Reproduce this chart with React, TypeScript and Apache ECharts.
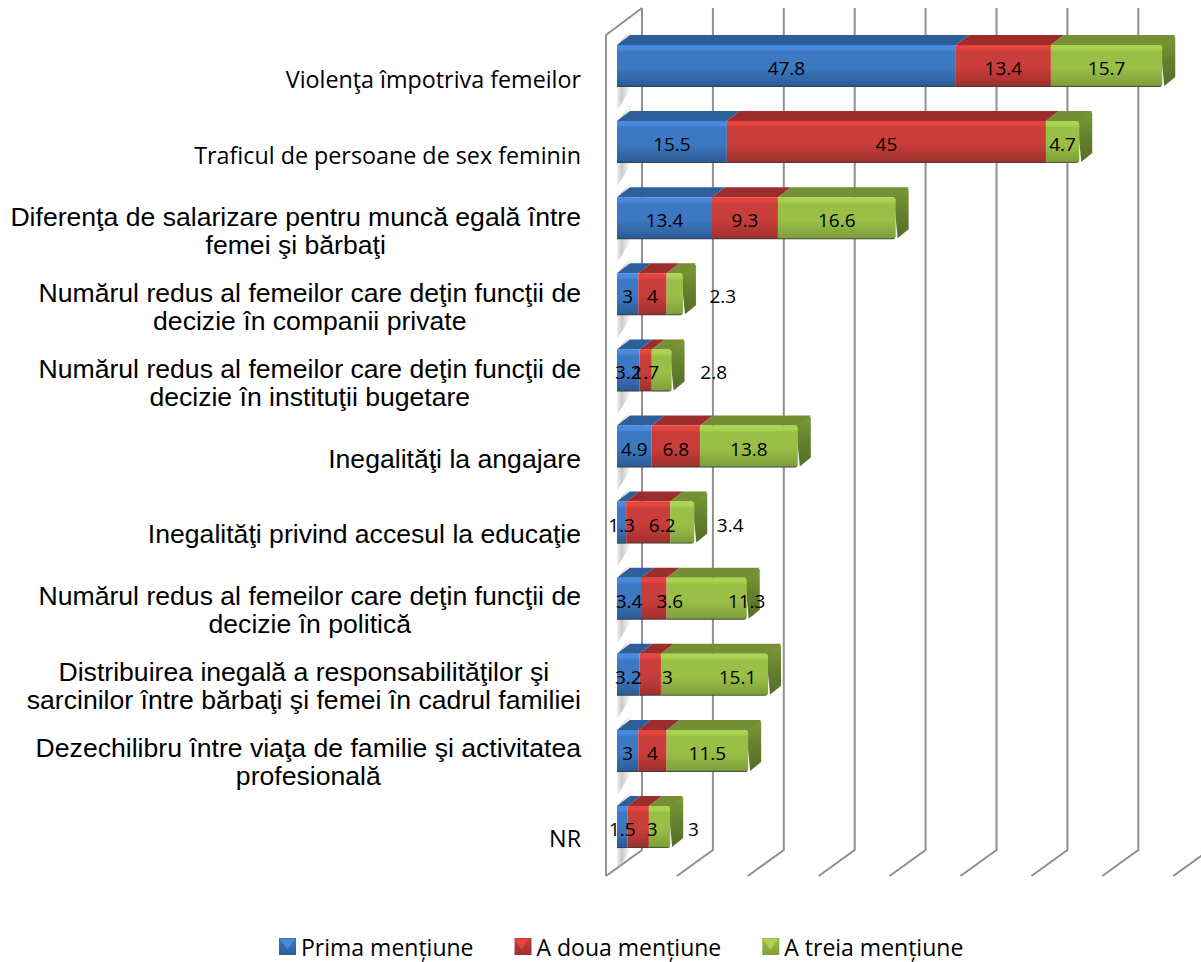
import React, { useEffect, useRef } from "react";
import * as echarts from "echarts";

const categories = [
  "Violenţa împotriva femeilor",
  "Traficul de persoane de sex feminin",
  "Diferenţa de salarizare pentru muncă egală între\nfemei şi bărbaţi",
  "Numărul redus al femeilor care deţin funcţii de\ndecizie în companii private",
  "Numărul redus al femeilor care deţin funcţii de\ndecizie în instituţii bugetare",
  "Inegalităţi la angajare",
  "Inegalităţi privind accesul la educaţie",
  "Numărul redus al femeilor care deţin funcţii de\ndecizie în politică",
  "Distribuirea inegală a responsabilităţilor şi\nsarcinilor între bărbaţi şi femei în cadrul familiei",
  "Dezechilibru între viaţa de familie şi activitatea\nprofesională",
  "NR",
];
const sansRows = [0, 1, 10];
const seriesNames = ["Prima mențiune", "A doua mențiune", "A treia mențiune"];
const prima = [47.8, 15.5, 13.4, 3, 3.2, 4.9, 1.3, 3.4, 3.2, 3, 1.5];
const aDoua = [13.4, 45, 9.3, 4, 1.7, 6.8, 6.2, 3.6, 3, 4, 3];
const aTreia = [15.7, 4.7, 16.6, 2.3, 2.8, 13.8, 3.4, 11.3, 15.1, 11.5, 3];
const gridTicks = [0, 10, 20, 30, 40, 50, 60, 70, 80];

// manual data-label shifts (px) as placed in the original, one row per series
const labelShiftPrima = [0, 0, 0, 0, 0, 0, 0, 0, 0, 0, 0];
const labelShiftDoua = [0, 0, 0, 0, 0, 0, 14, 16, 17, 0, 14];
const labelShiftTreia = [0, 0, 0, 48, 52, 0, 48, 40, 23, 0, 34];

const palettes = [
  { hi: "#4a8ade", mid: "#3d78c2", lo: "#2c5c97", top: "#2d5f9b", side: "#24507f" },
  { hi: "#e6443f", mid: "#c93d3a", lo: "#a0302e", top: "#9c2d2b", side: "#7f2523" },
  { hi: "#a9d44f", mid: "#9abf47", lo: "#7f9f3a", top: "#748f34", side: "#5f7a2c" },
];

const DX = 13;
const DY = 10;
const HALF = 21;
const WALL_BACK = 25;
const WALL_FRONT = -11;
const WALL_TOP_BACK = 8;
const WALL_TOP_FRONT = 35;
const WALL_BOT_BACK = 850;
const WALL_BOT_FRONT = 876;
const LINE = "#8f8f8f";
const MARKER_X = [279, 513, 762];
const MARKER_Y = 939;
const MARKER_W = 17;
const MARKER_H = 17;

// bars sit on a slightly wider pitch than the axis labels
const barShift = (row: number) => -13 + 0.2 * row;

const g = (stops: [number, string][], horiz = false) =>
  new echarts.graphic.LinearGradient(0, 0, horiz ? 1 : 0, horiz ? 0 : 1,
    stops.map(([offset, color]) => ({ offset, color })));

const faceGradient = (p: any) =>
  g([[0, p.hi], [0.09, p.hi], [0.16, p.mid], [0.55, p.mid], [0.96, p.lo], [1, "#333a3a"]]);

export default function App() {
  const ref = useRef<HTMLDivElement>(null);
  useEffect(() => {
    const chart = echarts.init(ref.current!, null, { renderer: "svg" });

    const stacks = [prima, aDoua, aTreia];
    const segments = stacks.map((vals, s) =>
      vals.map((v, i) => {
        let start = 0;
        for (let k = 0; k < s; k++) start += stacks[k][i];
        return [start, start + v, i, v];
      })
    );

    const barSeries = seriesNames.map((name, s) => ({
      type: "custom",
      name,
      z: 5,
      silent: true,
      clip: false,
      itemStyle: { color: g([[0, palettes[s].mid], [1, palettes[s].lo]]) },
      encode: { x: [0, 1], y: 2 },
      data: segments[s],
      renderItem: (_: any, api: any) => {
        const row = api.value(2);
        const [x0, yc0] = api.coord([api.value(0), row]);
        const [x1] = api.coord([api.value(1), row]);
        const yc = yc0 + barShift(row);
        const yt = yc - HALF;
        const yb = yc + HALF;
        const p = palettes[s];
        const children: any[] = [
          {
            type: "polygon",
            shape: { points: [[x0, yt], [x0 + DX, yt - DY], [x1 + DX, yt - DY], [x1, yt]] },
            style: { fill: p.top },
          },
          {
            type: "rect",
            shape: { x: x0, y: yt, width: x1 - x0, height: yb - yt, r: s === 2 ? [0, 3, 3, 0] : 0 },
            style: { fill: faceGradient(p) },
          },
        ];
        if (s === 2) {
          children.unshift({
            type: "polygon",
            shape: {
              points: [
                [x1 - 2, yt],
                [x1 + DX - 2, yt - DY],
                [x1 + DX, yt - DY + 2],
                [x1 + DX, yb - DY],
                [x1 + 2, yb - 1],
              ],
            },
            style: { fill: g([[0, "#7c9b37"], [0.5, "#64812d"], [1, "#556e28"]]) },
          });
        }
        return { type: "group", children };
      },
    }));

    const shiftRows = [labelShiftPrima, labelShiftDoua, labelShiftTreia];
    const labelData = segments.flatMap((rows, s) =>
      rows.map((r, i) => [r[0], r[1], r[2], r[3], shiftRows[s][i]])
    );

    const option: any = {
      animation: false,
      backgroundColor: "#ffffff",
      grid: { left: 617, top: 41, width: 567.2, height: 835 },
      xAxis: { type: "value", min: 0, max: 80, interval: 10, show: false },
      yAxis: {
        type: "category",
        inverse: true,
        data: categories,
        axisLine: { show: false },
        axisTick: { show: false },
        axisLabel: {
          margin: 36,
          interval: 0,
          formatter: (value: string, index: number) => {
            const key = sansRows.includes(index) ? "s" : "a";
            return value.split("\n").map((l) => `{${key}|${l}}`).join("\n");
          },
          rich: {
            a: { fontFamily: "Liberation Sans", fontSize: 26.6, lineHeight: 28, color: "#000", align: "center" },
            s: { fontFamily: "Open Sans", fontSize: 23.3, lineHeight: 28, color: "#000", align: "center" },
          },
        },
      },
      legend: {
        data: seriesNames,
        left: 279,
        top: 935,
        padding: 0,
        icon: "rect",
        itemWidth: MARKER_W,
        itemHeight: MARKER_H,
        itemGap: 41,
        textStyle: { fontFamily: "Open Sans", fontSize: 23, lineHeight: 22, color: "#000" },
        selectedMode: false,
      },
      graphic: MARKER_X.map((x, s) => ({
        type: "polygon",
        z: 100,
        silent: true,
        shape: {
          points: [
            [x + 1, MARKER_Y],
            [x + MARKER_W - 1, MARKER_Y],
            [x + MARKER_W / 2, MARKER_Y + MARKER_H / 2 + 2],
          ],
        },
        style: { fill: palettes[s].hi },
      })),
      series: [
        {
          type: "custom",
          name: "grid",
          z: 1,
          silent: true,
          clip: false,
          encode: { x: 0 },
          data: gridTicks.map((t) => [t]),
          renderItem: (_: any, api: any) => {
            const x = api.coord([api.value(0), 0])[0];
            const ls = { stroke: LINE, lineWidth: 2, fill: "none" };
            const pts: number[][] = [
              [x + WALL_BACK, WALL_TOP_BACK],
              [x + WALL_BACK, WALL_BOT_BACK],
              [x + WALL_FRONT, WALL_BOT_FRONT],
            ];
            const children: any[] = [{ type: "polyline", shape: { points: pts }, style: ls }];
            if (api.value(0) === 0) {
              children.push({
                type: "polyline",
                shape: {
                  points: [
                    [x + WALL_BACK, WALL_TOP_BACK],
                    [x + WALL_FRONT, WALL_TOP_FRONT],
                    [x + WALL_FRONT, WALL_BOT_FRONT],
                  ],
                },
                style: ls,
              });
            }
            return { type: "group", children };
          },
        },
        {
          type: "custom",
          name: "wall",
          z: 2,
          silent: true,
          clip: false,
          encode: { y: 0 },
          data: categories.map((_, i) => [i]),
          renderItem: (_: any, api: any) => {
            const row = api.value(0);
            const [x, yc0] = api.coord([0, row]);
            const yc = yc0 + barShift(row);
            return {
              type: "polygon",
              shape: {
                points: [
                  [x, yc - HALF],
                  [x + DX + 3, yc - HALF - DY - 8],
                  [x + DX + 3, yc + HALF - DY + 8],
                  [x + 1, yc + HALF + 22],
                  [x, yc + HALF + 22],
                ],
              },
              style: {
                fill: g([
                  [0, "rgba(170,170,170,0.15)"],
                  [0.3, "rgba(175,175,175,0.7)"],
                  [0.65, "rgba(205,205,205,0.4)"],
                  [1, "rgba(255,255,255,0)"],
                ], true),
              },
            };
          },
        },
        ...barSeries,
        {
          type: "custom",
          name: "labels",
          z: 8,
          silent: true,
          clip: false,
          encode: { x: [0, 1], y: 2 },
          data: labelData,
          renderItem: (_: any, api: any) => {
            const row = api.value(2);
            const [x0, yc] = api.coord([api.value(0), row]);
            const [x1] = api.coord([api.value(1), row]);
            return {
              type: "text",
              style: {
                text: String(api.value(3)),
                x: (x0 + x1) / 2 + api.value(4),
                y: yc + barShift(row) + 2,
                align: "center",
                verticalAlign: "middle",
                fontFamily: "Open Sans",
                fontSize: 19,
                fill: "#000",
              },
            };
          },
        },
      ],
    };
    chart.setOption(option);
    return () => chart.dispose();
  }, []);
  return (
    <div
      ref={ref}
      style={{ position: "absolute", left: 0, top: 0, width: 1201, height: 962 }}
    />
  );
}
